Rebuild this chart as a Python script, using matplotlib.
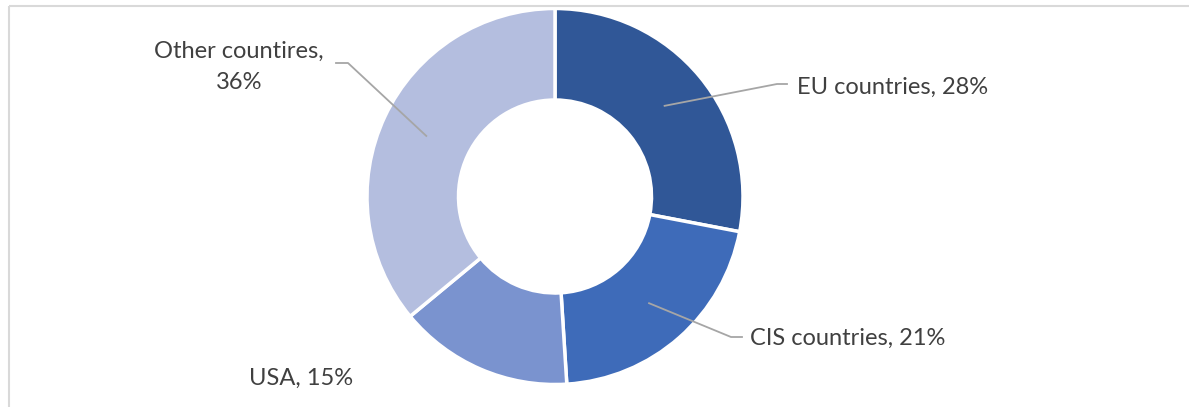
import matplotlib
matplotlib.use("Agg")
import matplotlib.pyplot as plt
import numpy as np

categories = ["EU countries", "CIS countries", "USA", "Other countires"]
values = [28, 21, 15, 36]
label_texts = ["EU countries, 28%", "CIS countries, 21%", "USA, 15%", "Other countires,\n36%"]
colors = ["#305797", "#3E6BB9", "#7A93CF", "#B4BEDF"]

W, H = 1189, 407
fig = plt.figure(figsize=(W / 100, H / 100), dpi=100)
ax = fig.add_axes([0, 0, 1, 1])
ax.set_xlim(0, W)
ax.set_ylim(0, H)
ax.set_aspect("equal")
ax.axis("off")

cx, cy = 555, H - 196.5
R, r_in = 188, 96.5
wedges, _ = ax.pie(values, colors=colors, startangle=90, counterclock=False,
                   center=(cx, cy), radius=R, frame=True,
                   wedgeprops=dict(width=R - r_in, edgecolor="white", linewidth=2.5))
ax.set_xlim(0, W)
ax.set_ylim(0, H)
ax.axis("off")

# frame
ax.plot([8.5, W], [H - 6, H - 6], color="#D9D9D9", lw=1.5, solid_capstyle="butt")
ax.plot([8.5, 8.5], [H - 6, 0], color="#D9D9D9", lw=1.5, solid_capstyle="butt")

font = dict(family="Lato", fontsize=17, color="#404040")
line_kw = dict(color="#A6A6A6", lw=1.3)
rmid = (R + r_in) / 2

# leader layout: (elbow x, elbow y(top), end x, text x, text y(top), ha)
layout = {
    0: (777, 84, 787, 797, 87, "left"),
    1: (731, 337, 742, 750, 338, "left"),
    2: None,
    3: (348, 63, 336, None, None, None),
}

for i, w in enumerate(wedges):
    ang = np.deg2rad((w.theta1 + w.theta2) / 2)
    ax_x = cx + rmid * np.cos(ang)
    ax_y = cy + rmid * np.sin(ang)
    lay = layout[i]
    if i in (0, 1):
        ex, ey, endx, tx, ty, ha = lay
        ax.plot([ax_x, ex, endx], [ax_y, H - ey, H - ey], **line_kw)
        ax.text(tx, H - ty, label_texts[i], ha=ha, va="center", **font)
    elif i == 3:
        ex, ey, endx = lay[:3]
        ax.plot([ax_x, ex, endx], [ax_y, H - ey, H - ey], **line_kw)
        ax.text(239, H - 66.5, label_texts[i], ha="center", va="center",
                linespacing=1.6, **font)
    else:
        ax.text(301, H - 378, label_texts[i], ha="center", va="center", **font)

fig.savefig("out.png", dpi=100, facecolor="white")
